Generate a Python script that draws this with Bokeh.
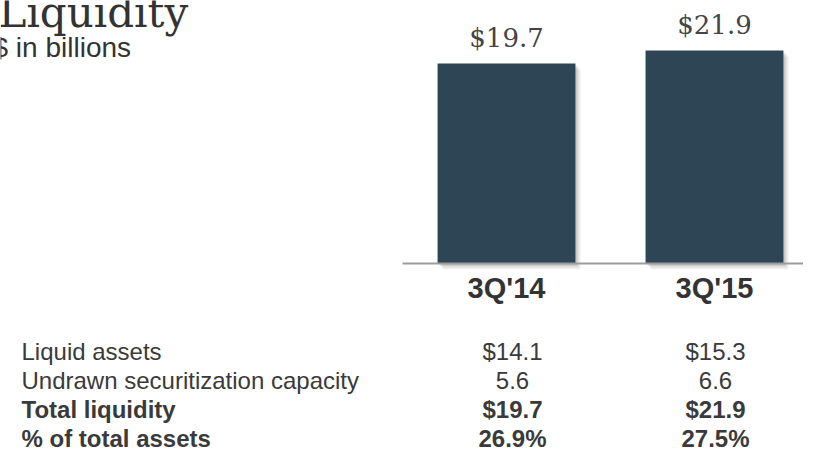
from bokeh.plotting import figure
from bokeh.models import Range1d, ColumnDataSource
from bokeh.embed import file_html
from bokeh.resources import INLINE
from bokeh.core.properties import value, field

# ---------------- data ----------------
categories = ["3Q'14", "3Q'15"]
total_liquidity = [19.7, 21.9]
bar_labels = ["$19.7", "$21.9"]

row_labels = ["Liquid assets", "Undrawn securitization capacity",
              "Total liquidity", "% of total assets"]
col_3q14 = ["$14.1", "5.6", "$19.7", "26.9%"]
col_3q15 = ["$15.3", "6.6", "$21.9", "27.5%"]
row_styles = ["normal", "normal", "bold", "bold"]

title_text = "Liquidity"
subtitle_text = "$ in billions"

# ---------------- layout constants ----------------
W, H = 803, 452
bar_floor = -14.15
bar_idx = list(range(len(categories)))

p = figure(width=W, height=H, output_backend="svg", toolbar_location=None,
           x_range=Range1d(0, W), y_range=Range1d(H, 0),
           x_axis_location=None, y_axis_location=None, min_border=0,
           outline_line_color=None, background_fill_color="white",
           border_fill_color="white")
p.grid.visible = False
p.extra_x_ranges = {"cat": Range1d(-2.433, 1.428)}
p.extra_y_ranges = {"val": Range1d(-46.13, 30.36)}

# soft shadow for bars
for dx, dy, a in [(0.026, 1.0, 0.05), (0.018, 0.7, 0.07), (0.010, 0.4, 0.10)]:
    p.vbar(x=[i + dx for i in bar_idx], top=[v - dy for v in total_liquidity],
           bottom=bar_floor - dy, width=0.663, x_range_name="cat", y_range_name="val",
           fill_color="black", fill_alpha=a, line_color=None)

# bars
p.vbar(x=bar_idx, top=total_liquidity, bottom=bar_floor, width=0.663,
       x_range_name="cat", y_range_name="val",
       fill_color="#2E4556", line_color=None)

# baseline
p.segment(x0=[-0.5], x1=[1.6], y0=[bar_floor], y1=[bar_floor],
          x_range_name="cat", y_range_name="val",
          line_color="#9C9C9C", line_width=2)

# bar value labels
p.text(x=bar_idx, y=total_liquidity, text=bar_labels,
       x_range_name="cat", y_range_name="val",
       text_align="center", text_baseline="middle", y_offset=-25,
       text_font=value("DejaVu Serif"), text_font_size="26px", text_color="#454545")

# category labels
p.text(x=bar_idx, y=[bar_floor] * len(categories), text=categories,
       x_range_name="cat", y_range_name="val",
       text_align="center", text_baseline="middle", y_offset=24,
       text_font=value("Liberation Sans"), text_font_style="bold",
       text_font_size="29px", text_color="#333333")

# title / subtitle
p.text(x=[-2], y=[12], text=[title_text], text_align="left",
       text_baseline="middle", text_font=value("DejaVu Serif"),
       text_font_size="42px", text_color="#333333")
p.text(x=[-8], y=[47], text=[subtitle_text], text_align="left",
       text_baseline="middle", text_font=value("Liberation Sans"),
       text_font_size="28px", text_color="#333333")

# table
row_y = [351, 380, 409, 438]
src = ColumnDataSource(dict(y=row_y, label=row_labels, c1=col_3q14, c2=col_3q15,
                            style=row_styles))
common = dict(source=src, text_baseline="middle", text_font=value("Liberation Sans"),
              text_font_style=field("style"), text_font_size="24px",
              text_color="#3A3A3A")
p.text(x=21, y="y", text="label", text_align="left", **common)
p.text(x=512, y="y", text="c1", text_align="center", **common)
p.text(x=715, y="y", text="c2", text_align="center", **common)

open("out.html", "w").write(file_html(p, INLINE))
